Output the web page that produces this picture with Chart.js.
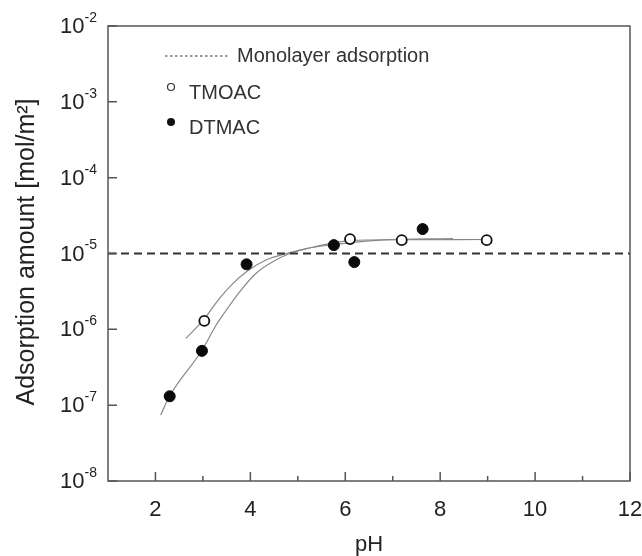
<!DOCTYPE html>
<html>
<head>
<meta charset="utf-8">
<script src="https://cdn.jsdelivr.net/npm/chart.js@4/dist/chart.umd.min.js"></script>
<style>
  html, body { margin: 0; padding: 0; background: #fff; }
  #wrap { width: 642px; height: 556px; }
</style>
</head>
<body>
<div id="wrap"><canvas id="myChart" width="642" height="556"></canvas></div>
<script>
// measured points
const tmoacPH = [3.03, 6.10, 7.19, 8.98];
const tmoacAmount = [1.29e-6, 1.55e-5, 1.5e-5, 1.5e-5];
const dtmacPH = [2.30, 2.98, 3.92, 5.76, 6.19, 7.63];
const dtmacAmount = [1.31e-7, 5.2e-7, 7.2e-6, 1.29e-5, 7.7e-6, 2.1e-5];

// fitted curves
const tmoacFitPH = [2.64, 2.99, 3.35, 3.63, 3.91, 4.33, 4.76, 5.21, 5.67, 6.10, 7.15, 8.97];
const tmoacFitAmount = [7.6e-7, 1.28e-6, 2.56e-6, 4.0e-6, 5.7e-6, 8.2e-6, 1.0e-5, 1.17e-5, 1.35e-5, 1.48e-5, 1.52e-5, 1.53e-5];
const dtmacFitPH = [2.11, 2.29, 2.98, 3.28, 3.42, 3.77, 4.12, 4.47, 4.83, 5.21, 5.67, 6.73, 8.27];
const dtmacFitAmount = [7.4e-8, 1.29e-7, 5.3e-7, 1.14e-6, 1.54e-6, 3.1e-6, 5.5e-6, 7.8e-6, 1.0e-5, 1.17e-5, 1.29e-5, 1.5e-5, 1.57e-5];

// monolayer level
const monolayerPH = [1, 12];
const monolayerAmount = [1e-5, 1e-5];

// axes
const xMajorTicks = [2, 4, 6, 8, 10, 12];
const xMinorTicks = [3, 5, 7, 9, 11];
const yExponents = [-8, -7, -6, -5, -4, -3, -2];

const legendItems = ['Monolayer adsorption', 'TMOAC', 'DTMAC'];

const pts = (xs, ys) => xs.map((x, i) => ({x: x, y: ys[i]}));

const FONT = '"Liberation Sans", Arial, sans-serif';
const INK = '#222';

const frame = {
    id: 'frame',
    afterDraw(chart) {
        const ctx = chart.ctx;
        const a = chart.chartArea;
        const xs = chart.scales.x, ys = chart.scales.y;
        ctx.save();

        // box
        ctx.strokeStyle = '#555';
        ctx.lineWidth = 1.5;
        ctx.strokeRect(a.left, a.top, a.right - a.left, a.bottom - a.top);

        // x ticks (inward)
        ctx.beginPath();
        xMajorTicks.forEach(v => {
            const px = xs.getPixelForValue(v);
            ctx.moveTo(px, a.bottom); ctx.lineTo(px, a.bottom - 9);
        });
        xMinorTicks.forEach(v => {
            const px = xs.getPixelForValue(v);
            ctx.moveTo(px, a.bottom); ctx.lineTo(px, a.bottom - 5);
        });
        // y ticks (inward)
        yExponents.forEach(e => {
            const py = ys.getPixelForValue(Math.pow(10, e));
            ctx.moveTo(a.left, py); ctx.lineTo(a.left + 9, py);
        });
        ctx.stroke();

        ctx.fillStyle = INK;
        // x tick labels
        ctx.font = '22px ' + FONT;
        ctx.textAlign = 'center';
        ctx.textBaseline = 'middle';
        xMajorTicks.forEach(v => {
            ctx.fillText(String(v), xs.getPixelForValue(v), a.bottom + 29);
        });

        // y tick labels 10^e
        yExponents.forEach(e => {
            const py = ys.getPixelForValue(Math.pow(10, e));
            ctx.font = '14px ' + FONT;
            ctx.textAlign = 'left';
            const sup = String(e);
            const supW = ctx.measureText(sup).width;
            const right = a.left - 11;
            ctx.fillText(sup, right - supW, py - 8);
            ctx.font = '22px ' + FONT;
            ctx.textAlign = 'right';
            ctx.fillText('10', right - supW, py + 1);
        });

        // axis titles
        ctx.font = '22px ' + FONT;
        ctx.textAlign = 'center';
        ctx.fillText('pH', (a.left + a.right) / 2, a.bottom + 64);

        ctx.save();
        ctx.translate(27, 252);
        ctx.rotate(-Math.PI / 2);
        ctx.font = '25px ' + FONT;
        ctx.fillText('Adsorption amount [mol/m²]', 0, 0);
        ctx.restore();

        // legend
        const lx = a.left + 57, ly = a.top + 30;
        ctx.strokeStyle = '#999';
        ctx.lineWidth = 2;
        ctx.setLineDash([2.5, 2.5]);
        ctx.beginPath();
        ctx.moveTo(lx, ly); ctx.lineTo(lx + 64, ly);
        ctx.stroke();
        ctx.setLineDash([]);

        ctx.font = '20px ' + FONT;
        ctx.textAlign = 'left';
        ctx.fillStyle = '#333';
        ctx.fillText(legendItems[0], lx + 72, ly);

        ctx.lineWidth = 1.2;
        ctx.strokeStyle = '#333';
        ctx.beginPath();
        ctx.arc(lx + 6, ly + 31, 3.5, 0, Math.PI * 2);
        ctx.fillStyle = '#fff';
        ctx.fill();
        ctx.stroke();
        ctx.fillStyle = '#333';
        ctx.fillText(legendItems[1], lx + 24, ly + 37);

        ctx.beginPath();
        ctx.arc(lx + 6, ly + 66, 4, 0, Math.PI * 2);
        ctx.fillStyle = '#111';
        ctx.fill();
        ctx.fillStyle = '#333';
        ctx.fillText(legendItems[2], lx + 24, ly + 72);

        ctx.restore();
    }
};

const ctx = document.getElementById('myChart').getContext('2d');
const myChart = new Chart(ctx, {
    type: 'scatter',
    data: {
        datasets: [
            {
                label: 'TMOAC',
                data: pts(tmoacPH, tmoacAmount),
                pointStyle: 'circle',
                pointRadius: 5,
                pointBackgroundColor: '#fff',
                pointBorderColor: '#111',
                pointBorderWidth: 1.8,
                showLine: false,
                order: 0
            },
            {
                label: 'DTMAC',
                data: pts(dtmacPH, dtmacAmount),
                pointStyle: 'circle',
                pointRadius: 5.5,
                pointBackgroundColor: '#0a0a0a',
                pointBorderColor: '#0a0a0a',
                pointBorderWidth: 1,
                showLine: false,
                order: 0
            },
            {
                label: 'Monolayer adsorption',
                data: pts(monolayerPH, monolayerAmount),
                showLine: true,
                borderColor: '#333',
                borderWidth: 2,
                borderDash: [8, 5],
                pointRadius: 0,
                order: 1
            },
            {
                label: 'TMOAC fit',
                data: pts(tmoacFitPH, tmoacFitAmount),
                showLine: true,
                borderColor: '#888',
                borderWidth: 1.2,
                cubicInterpolationMode: 'monotone',
                pointRadius: 0,
                order: 2
            },
            {
                label: 'DTMAC fit',
                data: pts(dtmacFitPH, dtmacFitAmount),
                showLine: true,
                borderColor: '#888',
                borderWidth: 1.2,
                cubicInterpolationMode: 'monotone',
                pointRadius: 0,
                order: 2
            }
        ]
    },
    options: {
        responsive: false,
        animation: false,
        layout: {
            padding: {left: 108, top: 26, right: 12, bottom: 75}
        },
        plugins: {
            legend: {display: false},
            tooltip: {enabled: false}
        },
        scales: {
            x: {
                type: 'linear',
                min: 1,
                max: 12,
                display: false
            },
            y: {
                type: 'logarithmic',
                min: 1e-8,
                max: 1e-2,
                display: false
            }
        }
    },
    plugins: [frame]
});
</script>
</body>
</html>
